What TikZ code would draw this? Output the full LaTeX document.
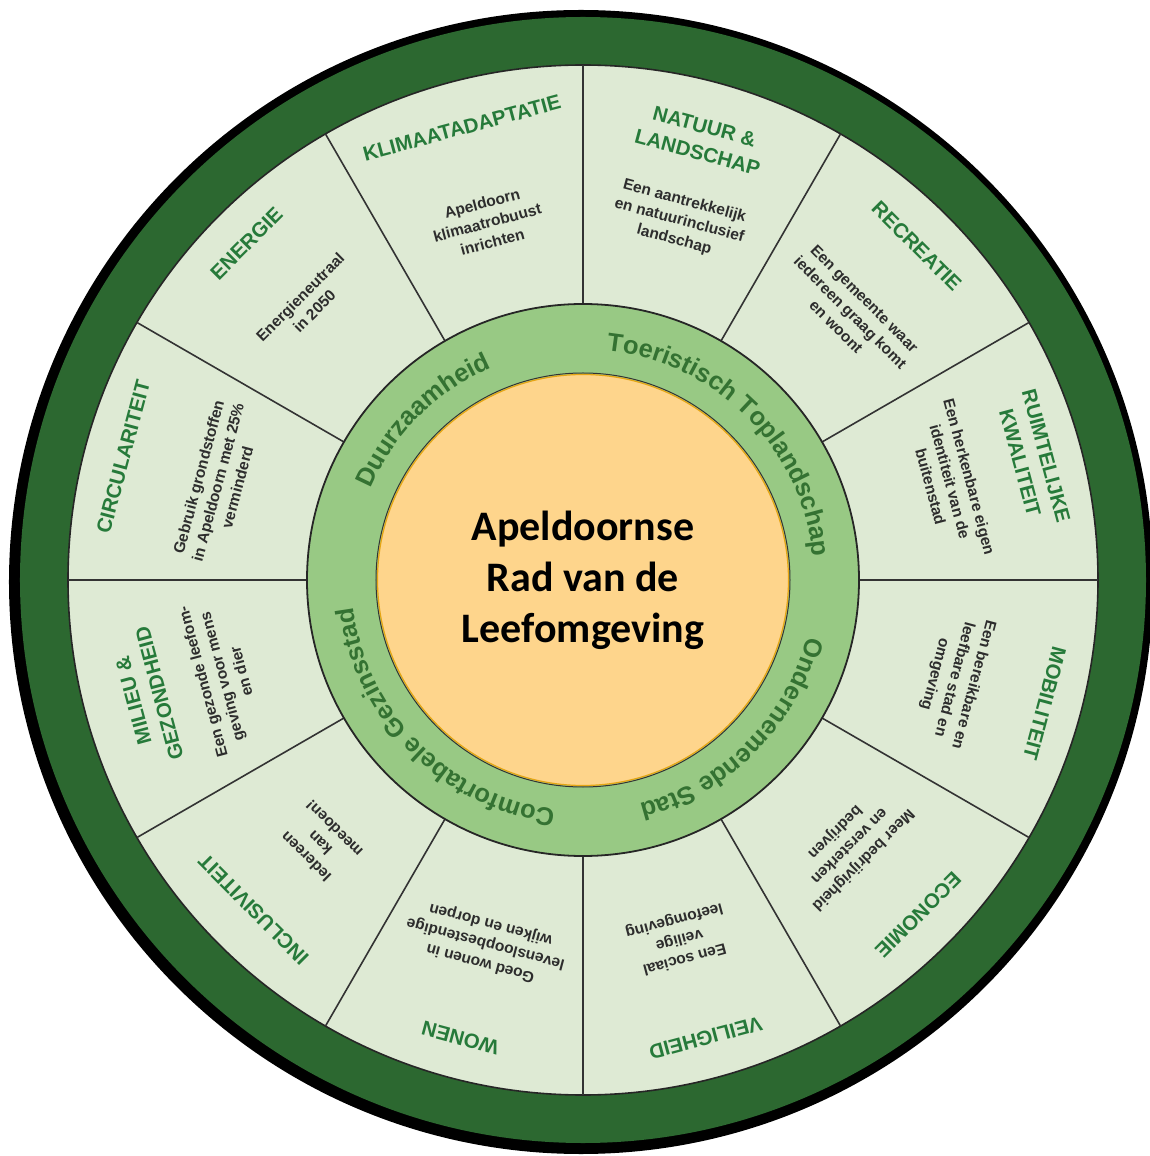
\documentclass[tikz,border=0pt]{standalone}
\usepackage{fontspec}
\setmainfont{Liberation Sans}
\newfontfamily\carl{Carlito}
\usetikzlibrary{decorations.text}
\definecolor{ringdark}{RGB}{44,104,48}
\definecolor{segfill}{RGB}{222,234,212}
\definecolor{midring}{RGB}{152,201,132}
\definecolor{orangefill}{RGB}{254,213,140}
\definecolor{goldedge}{RGB}{230,165,20}
\definecolor{titlegreen}{RGB}{38,122,58}
\definecolor{midgreen}{RGB}{52,114,50}
\definecolor{desctext}{RGB}{45,45,45}
\tikzset{
  divider/.style={draw=black!80, line width=1.6pt},
  ttl/.style={align=center, text=titlegreen, inner sep=0pt,
    font=\fontsize{20.5}{27}\selectfont\bfseries},
  desc/.style={align=center, text=desctext, inner sep=0pt,
    font=\fontsize{15.5}{20}\selectfont\bfseries},
  midlabel/.style={decorate, decoration={text along path, text align=center,
    text color=midgreen, text={|\fontsize{25.5}{30}\selectfont\bfseries|#1}}}
}
\begin{document}
\begin{tikzpicture}
\useasboundingbox (-583pt,-576pt) rectangle (567pt,580pt);
\fill[white] (-583pt,-576pt) rectangle (567pt,580pt);
% rings
\fill[black] (-2pt,-2pt) circle[radius=572pt];
\fill[ringdark] (0,0) circle[radius=563pt];
\filldraw[fill=segfill, draw=black!85, line width=1.6pt] (0,0) circle[radius=515pt];
\foreach \a in {0,30,...,330} \draw[divider] (\a:276pt) -- (\a:515pt);
\filldraw[fill=midring, draw=black!85, line width=1.8pt] (0,0) circle[radius=276pt];
\draw[black!80, line width=1pt] (0,0) circle[radius=207pt];
\filldraw[fill=orangefill, draw=goldedge, line width=1.2pt] (0,0) circle[radius=205.5pt];
% centre
\node[align=center, inner sep=0pt, font=\carl\bfseries\fontsize{42}{51}\selectfont] (centre) at (0,0) {Apeldoornse\\Rad van de\\Leefomgeving};
% middle ring labels
\path[midlabel={Duurzaamheid}] (180:231pt) arc[start angle=180, end angle=90, radius=231pt];
\path[midlabel={Toeristisch Toplandschap}] (90:231pt) arc[start angle=90, end angle=0, radius=231pt];
\path[midlabel={Ondernemende Stad}] (0:231pt) arc[start angle=0, end angle=-90, radius=231pt];
\path[midlabel={Comfortabele Gezinsstad}] (-90:231pt) arc[start angle=-90, end angle=-180, radius=231pt];
% segment titles
\node[ttl, rotate=45]   (t-energie) at (135:476pt) {ENERGIE};
\node[ttl, rotate=15]   (t-klimaat) at (105:468pt) {KLIMAATADAPTATIE};
\node[ttl, rotate=-15]  (t-natuur)  at (75:456pt)  {NATUUR \&\\LANDSCHAP};
\node[ttl, rotate=-45]  (t-recreatie) at (45:472pt) {RECREATIE};
\node[ttl, rotate=-75]  (t-ruimte)  at (15:466pt)  {RUIMTELIJKE\\KWALITEIT};
\node[ttl, rotate=-105] (t-mobiliteit) at (-15:478pt) {MOBILITEIT};
\node[ttl, rotate=-135] (t-economie) at (-45:474pt) {ECONOMIE};
\node[ttl, rotate=-165] (t-veiligheid) at (-75:474pt) {VEILIGHEID};
\node[ttl, rotate=-195] (t-wonen) at (-105:474pt) {WONEN};
\node[ttl, rotate=-225] (t-inclusiviteit) at (-135:466pt) {INCLUSIVITEIT};
\node[ttl, rotate=-255] (t-milieu) at (-165:452pt) {MILIEU \&\\GEZONDHEID};
\node[ttl, rotate=75]   (t-circulariteit) at (165:476pt) {CIRCULARITEIT};
% segment descriptions
\node[desc, rotate=45]   (d-energie) at (135:390pt) {Energieneutraal\\in 2050};
\node[desc, rotate=15]   (d-klimaat) at (105:370pt) {Apeldoorn\\klimaatrobuust\\inrichten};
\node[desc, rotate=-15]  (d-natuur)  at (75:372pt)  {Een aantrekkelijk\\en natuurinclusief\\landschap};
\node[desc, rotate=-45]  (d-recreatie) at (45:378pt) {Een gemeente waar\\iedereen graag komt\\en woont};
\node[desc, rotate=-75]  (d-ruimte)  at (15:380pt)  {Een herkenbare eigen\\identiteit van de\\buitenstad};
\node[desc, rotate=-105] (d-mobiliteit) at (-15:384pt) {Een bereikbare en\\leefbare stad en\\omgeving};
\node[desc, rotate=-135] (d-economie) at (-45:376pt) {Meer bedrijvigheid\\en versterken\\bedrijven};
\node[desc, rotate=-165] (d-veiligheid) at (-75:372pt) {Een sociaal\\veilige\\leefomgeving};
\node[desc, rotate=-195] (d-wonen) at (-105:376pt) {Goed wonen in\\levensloopbestendige\\wijken en dorpen};
\node[desc, rotate=-225] (d-inclusiviteit) at (-135:372pt) {Iedereen\\kan\\meedoen!};
\node[desc, rotate=-255] (d-milieu) at (-165:374pt) {Een gezonde leefom-\\geving voor mens\\en dier};
\node[desc, rotate=75]   (d-circulariteit) at (165:378pt) {Gebruik grondstoffen\\in Apeldoorn met 25\%\\verminderd};
\end{tikzpicture}
\end{document}
